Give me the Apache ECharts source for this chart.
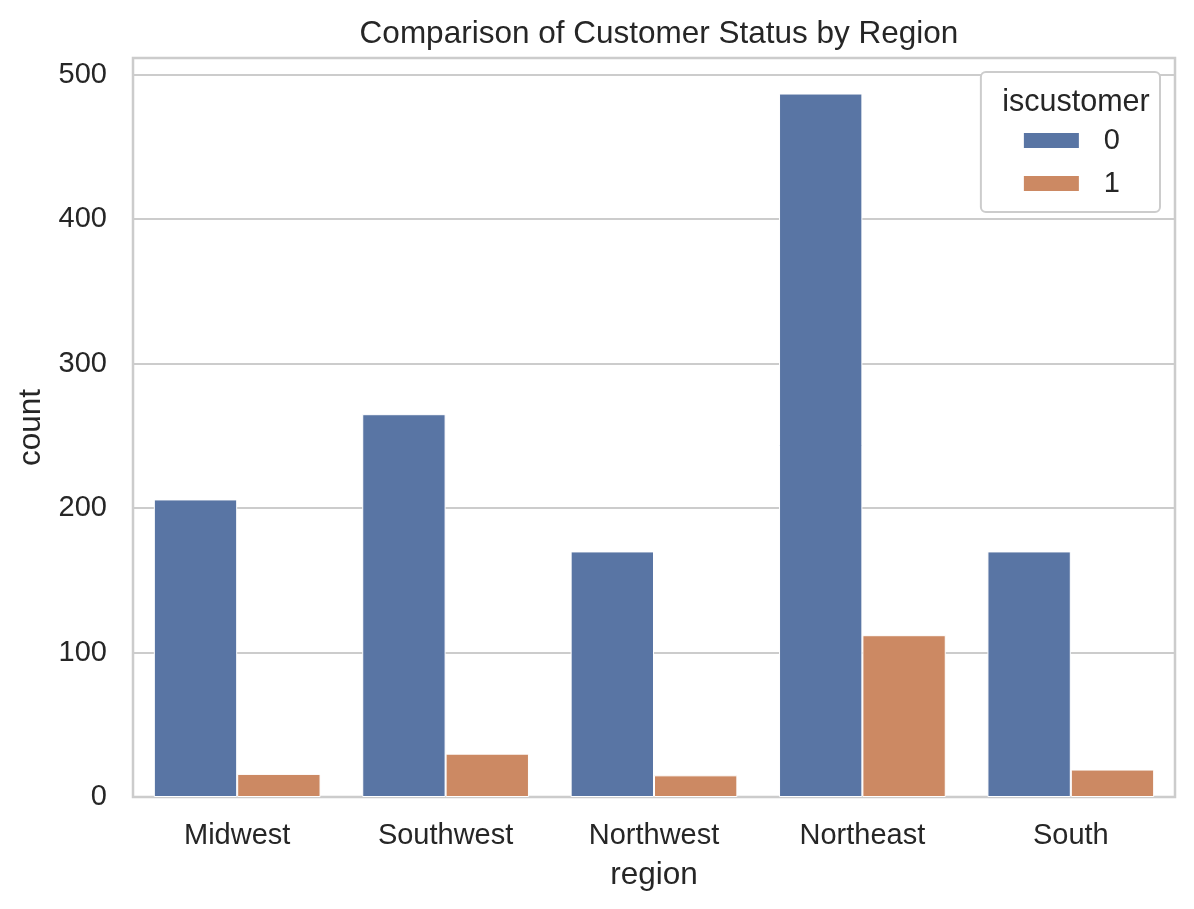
<!DOCTYPE html>
<html>
<head>
<meta charset="utf-8">
<script src="https://cdn.jsdelivr.net/npm/echarts@6/dist/echarts.min.js"></script>
<style>
html,body{margin:0;padding:0;background:#fff;}
#chart{width:1194px;height:909px;}
</style>
</head>
<body>
<div id="chart"></div>
<script>
const categories = ['Midwest', 'Southwest', 'Northwest', 'Northeast', 'South'];
const notCustomer = [206, 265, 170, 487, 170];
const isCustomer = [16, 30, 15, 112, 19];
const seriesNames = ['0', '1'];
const yTicks = [0, 100, 200, 300, 400, 500];

const FONT = 'Liberation Sans, Arial, sans-serif';
const TXT = '#262626';
const chart = echarts.init(document.getElementById('chart'), null, {renderer: 'canvas'});
chart.setOption({
  backgroundColor: '#ffffff',
  animation: false,
  textStyle: {fontFamily: FONT, color: TXT},
  title: [
    {text: 'Comparison of Customer Status by Region', left: 654, top: 13, textAlign: 'center',
     textStyle: {fontFamily: FONT, fontSize: 31.5, fontWeight: 'normal', color: TXT}},
    {text: 'iscustomer', left: 1071, top: 82, textAlign: 'center', z: 10,
     textStyle: {fontFamily: FONT, fontSize: 30.5, fontWeight: 'normal', color: TXT}}
  ],
  legend: {
    orient: 'vertical',
    right: 34, top: 72,
    data: seriesNames,
    itemWidth: 57, itemHeight: 17, itemGap: 14,
    padding: [54, 40, 14, 41],
    borderColor: '#cccccc', borderWidth: 2, borderRadius: 5,
    backgroundColor: '#ffffff',
    icon: 'rect',
    textStyle: {fontFamily: FONT, fontSize: 29, color: TXT, padding: [0, 0, 0, 19]}
  },
  grid: {left: 133, right: 19, top: 58, bottom: 112, show: true, borderColor: '#cccccc', borderWidth: 2.5, containLabel: false},
  xAxis: {
    type: 'category', data: categories,
    name: 'region', nameLocation: 'middle', nameGap: 62,
    nameTextStyle: {fontFamily: FONT, fontSize: 31.5, color: TXT},
    axisLine: {show: false}, axisTick: {show: false},
    axisLabel: {fontFamily: FONT, fontSize: 29, color: TXT, margin: 24},
    splitLine: {show: false}
  },
  yAxis: {
    type: 'value', min: 0, max: 511.6, interval: 100,
    name: 'count', nameLocation: 'middle', nameGap: 84,
    nameTextStyle: {fontFamily: FONT, fontSize: 31.5, color: TXT},
    axisLine: {show: false}, axisTick: {show: false},
    axisLabel: {fontFamily: FONT, fontSize: 29, color: TXT, margin: 26,
      formatter: v => (yTicks.indexOf(v) >= 0 ? String(v) : '')},
    splitLine: {show: true, lineStyle: {color: '#cccccc', width: 2}}
  },
  series: [
    {name: seriesNames[0], type: 'bar', data: notCustomer, barGap: '0%', barCategoryGap: '20%',
     itemStyle: {color: '#5975a4', borderColor: '#ffffff', borderWidth: 1}},
    {name: seriesNames[1], type: 'bar', data: isCustomer, barGap: '0%', barCategoryGap: '20%',
     itemStyle: {color: '#cc8963', borderColor: '#ffffff', borderWidth: 1}}
  ]
});
</script>
</body>
</html>
